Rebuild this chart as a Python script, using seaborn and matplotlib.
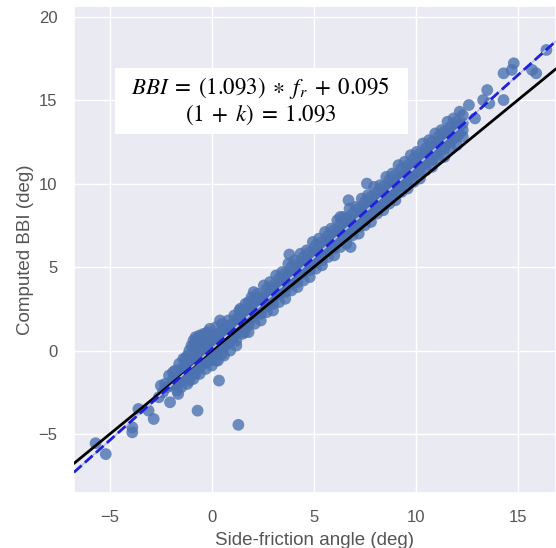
import numpy as np
import pandas as pd
import seaborn as sns
import matplotlib
matplotlib.use("Agg")
import matplotlib.pyplot as plt
from matplotlib.patches import Rectangle

# values: side-friction angle (x) vs computed BBI (y), deg

# lower tail and the few points that drop below the line
tail_x = [-5.7, -5.2, -3.9, -3.9, -3.6, -3.1, -2.85, -2.5, -2.05, -1.65, -0.7, 0.35, 1.3,
          -2.6, -2.4, -2.3, -2.2, -2.0, -1.9, -1.8, -1.7, -1.6, -1.5, -1.5, -1.4, -1.3]
tail_y = [-5.55, -6.2, -4.9, -4.6, -3.5, -3.6, -4.1, -2.1, -3.1, -2.6, -3.6, -1.8, -4.45,
          -2.8, -2.5, -2.0, -2.2, -2.1, -1.7, -2.0, -1.6, -1.9, -1.4, -1.1, -1.7, -1.2]

# dense cluster around the origin
cluster_x = [
    -1.3, -1.3, -1.3, -1.2, -1.2, -1.2, -1.1, -1.1, -1.1, -1.1,
    -1.0, -1.0, -1.0, -1.0, -0.9, -0.9, -0.9, -0.9, -0.8, -0.8, -0.8, -0.8, -0.8,
    -0.7, -0.7, -0.7, -0.7, -0.6, -0.6, -0.6, -0.6, -0.5, -0.5, -0.5, -0.5, -0.5,
    -0.4, -0.4, -0.4, -0.4, -0.3, -0.3, -0.3, -0.3, -0.2, -0.2, -0.2, -0.2,
    -0.1, -0.1, -0.1, -0.1, 0.0, 0.0, 0.0, 0.0, 0.1, 0.1, 0.1,
    0.2, 0.2, 0.2, 0.2, 0.3, 0.3, 0.3, 0.4, 0.4, 0.4, 0.5, 0.5, 0.5, 0.5,
    0.6, 0.6, 0.6, 0.7, 0.7, 0.7, 0.8, 0.8, 0.8, 0.9, 0.9, 0.9, 1.0, 1.0, 1.0,
    -1.8, -1.6, -1.4, -1.5, -1.2, -0.9, -0.6, -0.3, 0.0, 0.3, 0.6, 0.9, 1.2,
    -1.7, 1.1, 0.8, 0.5, 0.2, -0.1, 1.4, 1.6, 1.8, -2.1, -1.9,
]
cluster_y = [
    -0.9, -1.5, -0.5, -1.0, -0.3, -1.6, -0.7, 0.0, -1.3, -1.8,
    -0.4, -1.0, 0.3, -1.4, -0.6, 0.2, -1.1, 0.6, -0.3, -0.9, 0.4, 0.8, -1.4,
    0.0, -0.6, 0.7, -1.1, -0.2, 0.5, -0.8, 0.9, 0.2, -0.4, 0.8, -0.9, 0.5,
    -0.1, 0.6, -0.6, 1.0, 0.3, -0.3, 0.8, -0.7, 0.0, 0.5, -0.5, 1.1,
    0.2, -0.2, 0.7, -0.6, 0.4, 0.0, 0.9, -0.4, 0.1, 0.6, -0.3,
    0.3, 0.8, -0.1, -0.6, 0.5, 0.1, 1.0, 0.4, 0.9, 0.0, 0.7, 0.3, 1.2, -0.2,
    0.6, 1.0, 0.2, 0.9, 0.5, 1.4, 0.8, 1.2, 0.4, 1.0, 0.6, 1.5, 1.1, 1.6, 0.7,
    -1.2, -0.8, -0.5, -2.2, -2.0, -1.7, -1.4, -1.1, -0.9, -0.6, -0.3, 0.0, 0.3,
    -2.4, 2.1, 1.8, 1.6, 1.4, 1.3, 2.5, 1.1, 2.9, -1.5, -1.3,
]

# main band, centre of the scatter
band_x = [
    1.2, 1.2, 1.2, 1.35, 1.35, 1.5, 1.5, 1.5, 1.65, 1.65, 1.8, 1.8, 1.8, 1.95, 1.95,
    2.1, 2.1, 2.1, 2.25, 2.25, 2.4, 2.4, 2.4, 2.55, 2.55, 2.7, 2.7, 2.7, 2.85, 2.85,
    3.0, 3.0, 3.0, 3.15, 3.15, 3.3, 3.3, 3.3, 3.45, 3.45, 3.6, 3.6, 3.6, 3.75, 3.75,
    3.9, 3.9, 3.9, 4.05, 4.05, 4.2, 4.2, 4.2, 4.35, 4.35, 4.5, 4.5, 4.5, 4.65, 4.65,
    4.8, 4.8, 4.8, 4.95, 4.95, 5.1, 5.1, 5.1, 5.25, 5.25, 5.4, 5.4, 5.4, 5.55, 5.55,
    5.7, 5.7, 5.7, 5.85, 5.85, 6.0, 6.0, 6.0, 6.15, 6.15, 6.3, 6.3, 6.3, 6.45, 6.45,
    6.6, 6.6, 6.6, 6.75, 6.75, 6.9, 6.9, 6.9, 7.05, 7.05, 7.2, 7.2, 7.2, 7.35, 7.35,
    7.5, 7.5, 7.5, 7.65, 7.65, 7.8, 7.8, 7.8, 7.95, 7.95, 8.1, 8.1, 8.1, 8.25, 8.25,
    8.4, 8.4, 8.4, 8.55, 8.55, 8.7, 8.7, 8.7, 8.85, 8.85, 9.0, 9.0, 9.0, 9.15, 9.15,
    9.3, 9.3, 9.3, 9.45, 9.45, 9.6, 9.6, 9.6, 9.75, 9.75, 9.9, 9.9, 9.9, 10.05, 10.05,
    10.2, 10.2, 10.2, 10.35, 10.35, 10.5, 10.5, 10.5, 10.65, 10.65, 10.8, 10.8, 10.8,
    10.95, 10.95, 11.1, 11.1, 11.1, 11.25, 11.25, 11.4, 11.4, 11.4, 11.55, 11.55,
    11.7, 11.7, 11.7, 11.85, 11.85, 12.0, 12.0, 12.0, 12.15, 12.15, 12.3, 12.3, 12.3,
]
band_y = [
    1.0, 1.4, 1.9, 1.3, 1.9, 1.4, 1.9, 2.4, 1.6, 2.2, 1.5, 2.0, 2.5, 1.9, 2.5,
    2.1, 2.6, 3.1, 2.3, 2.8, 2.2, 2.7, 3.2, 2.6, 3.1, 2.7, 3.2, 3.7, 2.9, 3.5,
    2.8, 3.3, 3.9, 3.3, 3.8, 3.4, 3.9, 4.3, 3.6, 4.1, 3.5, 4.0, 4.6, 3.9, 4.5,
    4.0, 4.5, 5.0, 4.2, 4.8, 4.1, 4.6, 5.2, 4.6, 5.1, 4.7, 5.2, 5.6, 4.9, 5.5,
    4.8, 5.3, 5.9, 5.2, 5.8, 5.3, 5.8, 6.3, 5.6, 6.1, 5.4, 5.9, 6.5, 5.9, 6.4,
    6.0, 6.5, 6.9, 6.2, 6.8, 6.1, 6.6, 7.2, 6.6, 7.1, 6.6, 7.1, 7.6, 6.8, 7.4,
    6.8, 7.3, 7.9, 7.2, 7.7, 7.3, 7.8, 8.2, 7.5, 8.0, 7.4, 7.9, 8.5, 7.8, 8.4,
    7.9, 8.4, 8.9, 8.2, 8.7, 8.1, 8.6, 9.2, 8.5, 9.0, 8.6, 9.1, 9.5, 8.8, 9.4,
    8.7, 9.2, 9.8, 9.1, 9.7, 9.3, 9.8, 10.2, 9.4, 10.0, 9.4, 9.9, 10.5, 9.8, 10.3,
    9.9, 10.4, 10.9, 10.1, 10.6, 10.1, 10.6, 11.1, 10.4, 11.0, 10.6, 11.1, 11.5, 10.7, 11.3,
    10.7, 11.2, 11.8, 11.1, 11.6, 11.2, 11.7, 12.1, 11.4, 11.9, 11.4, 11.9, 12.5,
    11.7, 12.3, 11.9, 12.4, 12.8, 12.0, 12.6, 12.1, 12.6, 13.1, 12.4, 12.9,
    12.5, 13.0, 13.4, 12.7, 13.2, 12.8, 13.3, 13.7, 13.0, 13.5, 13.2, 13.6, 14.1,
]

# lower and upper edges of the band
edge_low_x = [1.2, 1.5, 1.8, 2.1, 2.4, 2.7, 3.0, 3.3, 3.6, 3.9, 4.2, 4.5, 4.8,
              5.1, 5.4, 5.7, 6.0, 6.3, 6.6, 6.9, 7.2, 7.5, 7.8, 8.1, 8.4, 8.7,
              9.0, 9.3, 9.6, 9.9, 10.2, 10.5, 10.8, 11.1, 11.4, 11.7, 12.0, 12.3]
edge_low_y = [0.6, 1.0, 1.1, 1.6, 1.8, 2.3, 2.4, 2.9, 3.1, 3.6, 3.8, 4.2, 4.4,
              4.9, 5.1, 5.6, 5.7, 6.2, 6.4, 6.9, 7.0, 7.5, 7.7, 8.2, 8.4, 8.8,
              9.0, 9.5, 9.7, 10.1, 10.3, 10.8, 11.0, 11.5, 11.6, 12.1, 12.3, 12.8]
edge_high_x = [1.35, 1.65, 1.95, 2.25, 2.55, 2.85, 3.15, 3.45, 3.75, 4.05, 4.35,
               4.65, 4.95, 5.25, 5.55, 5.85, 6.15, 6.45, 6.75, 7.05, 7.35, 7.65,
               7.95, 8.25, 8.55, 8.85, 9.15, 9.45, 9.75, 10.05, 10.35, 10.65,
               10.95, 11.25, 11.55, 11.85, 12.15]
edge_high_y = [2.4, 2.8, 3.2, 3.4, 3.9, 4.1, 4.5, 4.7, 5.2, 5.4, 5.8, 6.0, 6.5,
               6.7, 7.1, 7.3, 7.8, 8.0, 8.5, 8.6, 9.1, 9.3, 9.8, 9.9, 10.4, 10.6,
               11.1, 11.3, 11.7, 11.9, 12.4, 12.6, 13.0, 13.2, 13.7, 13.9, 14.3]

# scattered points off the band and the upper tail
loose_x = [0.4, 2.05, 3.8, 6.3, 6.7, 6.8, 7.6,
           12.6, 12.9, 13.3, 13.5, 13.6, 14.3, 14.3, 14.7, 14.8, 15.7, 15.9, 16.4]
loose_y = [1.8, 3.5, 5.75, 8.0, 9.0, 6.2, 10.0,
           14.7, 13.9, 15.0, 15.6, 14.8, 16.6, 15.0, 16.8, 17.2, 16.8, 16.6, 18.0]

slope = 1.093
intercept = 0.095

df = pd.DataFrame({
    "x": tail_x + cluster_x + band_x + edge_low_x + edge_high_x + loose_x,
    "y": tail_y + cluster_y + band_y + edge_low_y + edge_high_y + loose_y,
})

sns.set_theme(style="darkgrid")
plt.rcParams["font.family"] = ["Liberation Sans", "DejaVu Sans"]
plt.rcParams["mathtext.fontset"] = "stix"

fig = plt.figure(figsize=(5.56, 5.48), dpi=100)
ax = fig.add_axes([0.133, 0.1004, 0.867, 0.8886])

sns.scatterplot(data=df, x="x", y="y", ax=ax, color="#4c72b0", s=72,
                alpha=0.8, edgecolor="none", zorder=2)

xlim = (-6.76, 16.87)
ax.set_xlim(xlim)
ax.set_ylim(-8.53, 20.63)

xs = np.array(xlim)
ax.plot(xs, xs, color="black", lw=2, zorder=3)
ax.plot(xs, slope * xs + intercept, color="#b8c2dc", lw=1.2, zorder=3)
ax.plot(xs, slope * xs + intercept, color="#1f1fe0", lw=2, ls="--", zorder=4)

ax.set_xticks([-5, 0, 5, 10, 15])
ax.set_yticks([-5, 0, 5, 10, 15, 20])
ax.tick_params(labelsize=12, labelcolor="#555555", pad=6)
ax.set_xlabel("Side-friction angle (deg)", fontsize=13.5, color="#555555", labelpad=5)
ax.set_ylabel("Computed BBI (deg)", fontsize=13.5, color="#555555", labelpad=3)

# white box behind the fit equation
ax.add_patch(Rectangle((-4.75, 12.99), 14.36, 3.9, facecolor="white",
                       edgecolor="none", zorder=5))
eq = ("$BBI \\;=\\; (1.093) \\;\\ast\\; f_r \\;+\\; 0.095$\n"
      "$(1 \\;+\\; k) \\;=\\; 1.093$")
ax.text(2.4, 14.95, eq, ha="center", va="center", fontsize=16.5, color="black",
        linespacing=1.05, multialignment="center", zorder=6)

fig.savefig("out.png", dpi=100)
